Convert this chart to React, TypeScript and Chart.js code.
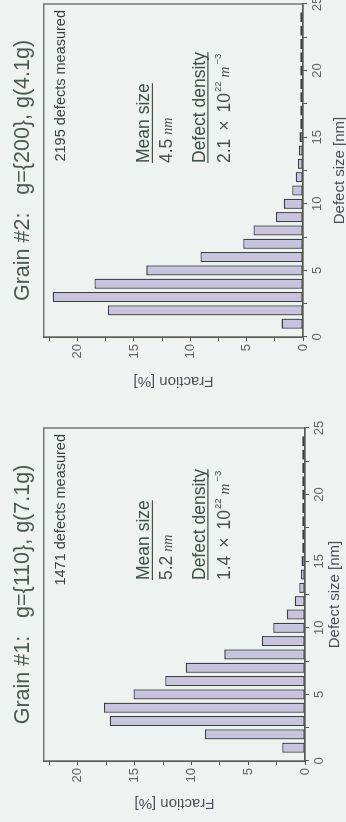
import { useEffect, useRef } from "react";
import { Chart, registerables } from "chart.js";

Chart.register(...registerables);

// ---- data -------------------------------------------------------------
// defect size bin centres [nm]
const sizeBins = [1, 2, 3, 4, 5, 6, 7, 8, 9, 10, 11, 12, 13, 14, 15, 16, 17, 18, 19, 20, 21, 22, 23, 24];
// fraction of defects [%] per bin
const grain1Fraction = [2.0, 8.8, 17.2, 17.7, 15.1, 12.3, 10.5, 7.1, 3.8, 2.8, 1.6, 0.9, 0.5, 0.35, 0.3, 0.25, 0.25, 0.25, 0.25, 0.25, 0.25, 0.25, 0.25, 0.25];
const grain2Fraction = [1.9, 17.3, 22.2, 18.5, 13.9, 9.1, 5.3, 4.4, 2.4, 1.7, 0.95, 0.65, 0.45, 0.35, 0.3, 0.25, 0.25, 0.25, 0.25, 0.25, 0.25, 0.25, 0.25, 0.25];
const fractionTickLabels = [0, 5, 10, 15, 20];
const sizeTickLabels = [0, 5, 10, 15, 20, 25];
const panelTitles = ["Grain #1:   g={110}, g(7.1g)", "Grain #2:   g={200}, g(4.1g)"];
const defectCounts = ["1471 defects measured", "2195 defects measured"];
const meanSizes = ["5.2", "4.5"];
const densityMantissas = ["1.4", "2.1"];
const densityExponent = "22";
const xAxisTitle = "Defect size [nm]";
const yAxisTitle = "Fraction [%]";

// ---- styling ------------------------------------------------------------
const SANS = '"Liberation Sans", Arial, Helvetica, sans-serif';
const SERIF = '"Liberation Serif", "Times New Roman", serif';
const BG = "#eef3f2";
const FRAME = "#565b54";
const BAR_FILL = "#c8c3de";
const BAR_EDGE = "#3b3e40";

const panelLayout = [
  { yWidth: 61, xHeight: 41, padRight: 17, yTitlePad: 9.5, xTitlePad: 2, noteDx: 181 },
  { yWidth: 74, xHeight: 43, padRight: 4, yTitlePad: 21, xTitlePad: -3, noteDx: 174 },
];

const framePlugin = {
  id: "frame",
  afterDraw(chart: any) {
    const { ctx, chartArea: a } = chart;
    ctx.save();
    ctx.strokeStyle = FRAME;
    ctx.lineWidth = 1.2;
    ctx.strokeRect(a.left, a.top, a.right - a.left, a.bottom - a.top);
    ctx.restore();
  },
};

const notesPlugin = {
  id: "notes",
  afterDatasetsDraw(chart: any, _args: any, opts: any) {
    const { ctx, chartArea: a } = chart;
    ctx.save();
    ctx.textBaseline = "alphabetic";
    // number of defects
    ctx.fillStyle = "#3a403c";
    ctx.font = `14.5px ${SANS}`;
    ctx.textAlign = "right";
    ctx.fillText(opts.count, a.right - 6, a.top + 21);
    ctx.textAlign = "left";
    const L = a.left + opts.dx;
    // Mean size
    ctx.fillStyle = "#3f5045";
    ctx.font = `17.5px ${SANS}`;
    ctx.fillText("Mean size", L, a.top + 105.5);
    let w = ctx.measureText("Mean size").width;
    ctx.fillRect(L, a.top + 108, w, 1.2);
    ctx.fillStyle = "#4a4f4c";
    ctx.fillText(opts.mean, L, a.top + 128);
    w = ctx.measureText(opts.mean).width;
    ctx.font = `italic 14px ${SERIF}`;
    ctx.fillText("nm", L + w + 4, a.top + 128);
    // Defect density
    ctx.fillStyle = "#3f5045";
    ctx.font = `17.5px ${SANS}`;
    ctx.fillText("Defect density", L, a.top + 161);
    w = ctx.measureText("Defect density").width;
    ctx.fillRect(L, a.top + 163.5, w, 1.2);
    ctx.fillStyle = "#4a4f4c";
    const by = a.top + 186;
    let x = L;
    ctx.fillText(opts.density, x, by);
    x += ctx.measureText(opts.density).width + 8;
    ctx.fillText("\u00d7", x, by);
    x += ctx.measureText("\u00d7").width + 8;
    ctx.fillText("10", x, by);
    x += ctx.measureText("10").width + 1;
    ctx.font = `9.5px ${SANS}`;
    ctx.fillText(opts.exp, x, by - 9);
    x += ctx.measureText(opts.exp).width + 4;
    ctx.font = `italic 15px ${SERIF}`;
    ctx.fillText("m", x, by - 1);
    x += ctx.measureText("m").width + 2;
    ctx.font = `9.5px ${SANS}`;
    ctx.fillText("\u22123", x, by - 9);
    ctx.restore();
  },
};

function Panel({ index }: { index: number }) {
  const ref = useRef<HTMLCanvasElement>(null);
  useEffect(() => {
    const lay = panelLayout[index];
    const values = index === 0 ? grain1Fraction : grain2Fraction;
    const chart = new Chart(ref.current as HTMLCanvasElement, {
      type: "bar",
      data: {
        datasets: [
          {
            data: sizeBins.map((s, i) => ({ x: s, y: values[i] })),
            backgroundColor: BAR_FILL,
            borderColor: BAR_EDGE,
            borderWidth: 1.3,
            borderSkipped: false,
            barPercentage: 0.76,
            categoryPercentage: 1,
          } as any,
        ],
      },
      plugins: [framePlugin, notesPlugin],
      options: {
        animation: false,
        responsive: false,
        devicePixelRatio: 1,
        layout: { padding: { left: 0, right: lay.padRight, top: 0, bottom: 0 } },
        plugins: {
          legend: { display: false },
          tooltip: { enabled: false },
          title: {
            display: true,
            text: panelTitles[index],
            fullSize: false,
            color: "#4a5a4f",
            font: { size: 21.5, family: SANS, weight: "normal" },
            padding: { top: 10, bottom: 8 },
          } as any,
          notes: {
            count: defectCounts[index],
            mean: meanSizes[index],
            density: densityMantissas[index],
            exp: densityExponent,
            dx: lay.noteDx,
          },
        } as any,
        scales: {
          x: {
            type: "linear",
            min: 0,
            max: 25,
            offset: false,
            afterFit: (s: any) => {
              s.height = lay.xHeight;
              s.paddingLeft = 0;
              s.paddingRight = 0;
            },
            grid: { display: true, drawOnChartArea: false, drawTicks: true, tickLength: 4, color: FRAME, offset: false },
            border: { display: true, color: FRAME, width: 1.2 },
            ticks: {
              stepSize: 2.5,
              autoSkip: false,
              maxRotation: 0,
              includeBounds: false,
              padding: 3,
              color: "#5f6461",
              font: { size: 13, family: SANS },
              callback: (v: any) => (sizeTickLabels.includes(Number(v)) ? String(v) : ""),
            },
            title: {
              display: true,
              text: xAxisTitle,
              color: "#4d4c58",
              font: { size: 15, family: SANS },
              padding: { top: 0, bottom: lay.xTitlePad },
            },
          },
          y: {
            type: "linear",
            min: 0,
            max: 23,
            afterFit: (s: any) => {
              s.width = lay.yWidth;
              s.paddingTop = 0;
              s.paddingBottom = 0;
            },
            grid: { display: true, drawOnChartArea: false, drawTicks: true, tickLength: 4, color: FRAME },
            border: { display: true, color: FRAME, width: 1.2 },
            ticks: {
              stepSize: 2.5,
              autoSkip: false,
              includeBounds: false,
              padding: 3,
              color: "#5f6461",
              font: { size: 13, family: SANS },
              callback: (v: any) => (fractionTickLabels.includes(Number(v)) ? String(v) : ""),
            },
            title: {
              display: true,
              text: yAxisTitle,
              color: "#4d4c58",
              font: { size: 15, family: SANS },
              padding: { top: lay.yTitlePad, bottom: 0 },
            },
          },
        },
      } as any,
    });
    return () => chart.destroy();
  }, [index]);
  return (
    <canvas
      ref={ref}
      width={411}
      height={346}
      style={{ width: 411, height: 346, display: "block" }}
    />
  );
}

export default function App() {
  return (
    <div style={{ position: "fixed", inset: 0, background: BG, overflow: "hidden" }}>
      <div
        style={{
          position: "absolute",
          left: 0,
          top: 0,
          width: 822,
          height: 346,
          display: "flex",
          transformOrigin: "0 0",
          transform: "translate(0px, 822px) rotate(-90deg)",
        }}
      >
        <Panel index={0} />
        <Panel index={1} />
      </div>
    </div>
  );
}
